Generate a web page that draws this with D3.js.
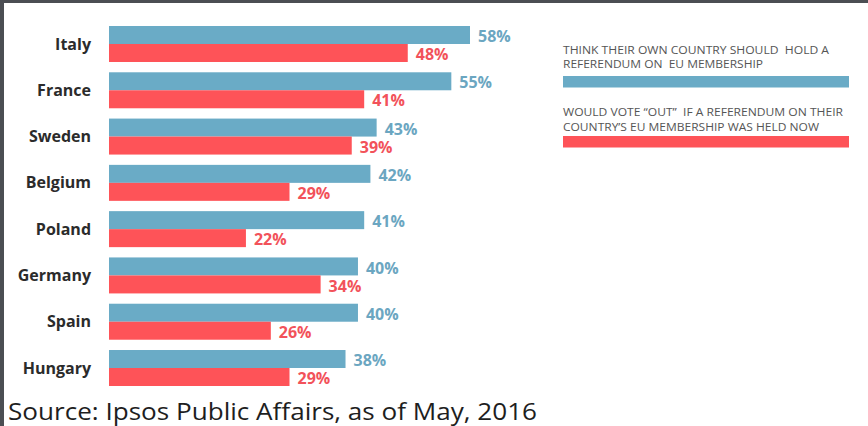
<!DOCTYPE html>
<html>
<head>
<meta charset="utf-8">
<script src="https://cdn.jsdelivr.net/npm/d3@7"></script>
<style>
  html, body { margin: 0; padding: 0; background: #fff; }
  svg { display: block; }
</style>
</head>
<body>
<svg id="chart" width="868" height="426"></svg>
<script>
// Survey results by country (percent)
const countries = ["Italy", "France", "Sweden", "Belgium", "Poland", "Germany", "Spain", "Hungary"];
const holdReferendum = [58, 55, 43, 42, 41, 40, 40, 38];
const voteOut = [48, 41, 39, 29, 22, 34, 26, 29];
const seriesKeys = ["hold", "out"];
const seriesLabels = [
  ["THINK THEIR OWN COUNTRY SHOULD  HOLD A", "REFERENDUM ON  EU MEMBERSHIP"],
  ["WOULD VOTE \u201COUT\u201D  IF A REFERENDUM ON THEIR", "COUNTRY\u2019S EU MEMBERSHIP WAS HELD NOW"]
];
const sourceText = "Source: Ipsos Public Affairs, as of May, 2016";

const barColors = { hold: "#6aabc6", out: "#fe5358" };
const labelColors = { hold: "#6ba6c1", out: "#f2525a" };

const svg = d3.select("#chart");

// Dark frame along the top and left edges
svg.append("rect").attr("x", 0).attr("y", 0).attr("width", 868).attr("height", 3).attr("fill", "#4b4e53");
svg.append("rect").attr("x", 0).attr("y", 0).attr("width", 4).attr("height", 426).attr("fill", "#4b4e53");

const x = d3.scaleLinear().domain([0, 58]).range([109, 470]);
const y = d3.scaleBand().domain(countries).range([26, 386]).paddingInner(0.2225).paddingOuter(0);
const ySub = d3.scaleBand().domain(seriesKeys).range([0, y.bandwidth()]);

const rows = countries.map((c, i) => ({ country: c, hold: holdReferendum[i], out: voteOut[i] }));

const g = svg.append("g");
const row = g.selectAll("g.row").data(rows).join("g")
  .attr("class", "row")
  .attr("transform", d => `translate(0,${y(d.country)})`);

// Country names
row.append("text")
  .attr("x", 91)
  .attr("y", y.bandwidth() / 2)
  .attr("dy", "0.35em")
  .attr("text-anchor", "end")
  .attr("font-family", "'Open Sans', sans-serif")
  .attr("font-weight", 700)
  .attr("font-size", 16)
  .attr("fill", "#2b2b2b")
  .text(d => d.country);

// Bars
row.selectAll("rect.bar").data(d => seriesKeys.map(k => ({ key: k, value: d[k] }))).join("rect")
  .attr("class", "bar")
  .attr("x", x(0))
  .attr("y", d => ySub(d.key))
  .attr("width", d => x(d.value) - x(0))
  .attr("height", ySub.bandwidth())
  .attr("fill", d => barColors[d.key]);

// Value labels
row.selectAll("text.val").data(d => seriesKeys.map(k => ({ key: k, value: d[k] }))).join("text")
  .attr("class", "val")
  .attr("x", d => x(d.value) + 8)
  .attr("y", d => ySub(d.key) + ySub.bandwidth() / 2 + 1.5)
  .attr("dy", "0.35em")
  .attr("font-family", "'Open Sans', sans-serif")
  .attr("font-weight", 700)
  .attr("font-size", 16)
  .attr("fill", d => labelColors[d.key])
  .text(d => d.value + "%");

// Legend: two caption lines above a colour swatch for each series
const legend = svg.append("g").attr("transform", "translate(563,0)");
const legendLayout = [
  { baselines: [54, 67.5], widths: [266, 200], swatchY: 76 },
  { baselines: [116, 131], widths: [280, 256], swatchY: 136 }
];
seriesKeys.forEach((k, i) => {
  const lay = legendLayout[i];
  seriesLabels[i].forEach((line, j) => {
    legend.append("text")
      .attr("x", 0)
      .attr("y", lay.baselines[j])
      .attr("font-family", "'Open Sans', sans-serif")
      .attr("font-size", 11)
      .attr("fill", "#555")
      .attr("textLength", lay.widths[j])
      .attr("lengthAdjust", "spacingAndGlyphs")
      .style("white-space", "pre")
      .text(line);
  });
  legend.append("rect")
    .attr("x", 0)
    .attr("y", lay.swatchY)
    .attr("width", 286)
    .attr("height", 11.5)
    .attr("fill", barColors[k]);
});

// Source note
svg.append("text")
  .attr("x", 8)
  .attr("y", 420)
  .attr("font-family", "'Open Sans', sans-serif")
  .attr("font-size", 24)
  .attr("fill", "#1e1e1e")
  .attr("textLength", 529)
  .attr("lengthAdjust", "spacingAndGlyphs")
  .text(sourceText);
</script>
</body>
</html>
